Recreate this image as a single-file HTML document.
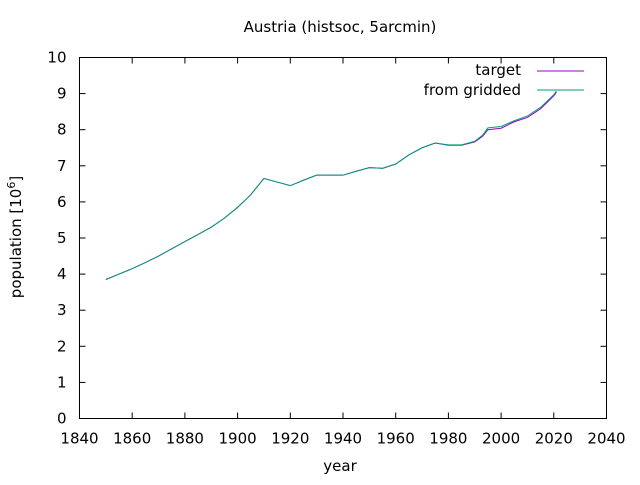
<!DOCTYPE html>
<html><head><meta charset="utf-8"><style>
body{margin:0;background:#fff}
svg text{font-family:"DejaVu Sans","Liberation Sans",sans-serif;fill:#000}
</style></head><body>
<svg width="640" height="480" id="c">
<rect width="640" height="480" fill="#fff"/>
<text x="340" y="32" font-size="15" text-anchor="middle">Austria (histsoc, 5arcmin)</text>
<text x="340" y="471" font-size="15" text-anchor="middle">year</text>
<text transform="translate(21,237) rotate(-90)" font-size="15" text-anchor="middle">population [10<tspan dy="-6" font-size="11">6</tspan><tspan dy="6">]</tspan></text>
<g id="axes"></g>
<g id="series"></g>
<g>
<text x="521" y="75" font-size="15" text-anchor="end">target</text>
<line x1="537" y1="71" x2="584" y2="71" stroke="#9400d3" stroke-width="1"/>
<text x="521" y="95" font-size="15" text-anchor="end">from gridded</text>
<line x1="537" y1="90" x2="584" y2="90" stroke="#009e73" stroke-width="1"/>
</g>
</svg>
<script>
const years=[1850,1855,1860,1865,1870,1875,1880,1885,1890,1895,1900,1905,1910,1915,1920,1925,1930,1935,1940,1945,1950,1955,1960,1965,1970,1975,1980,1985,1990,1993,1995,2000,2005,2010,2015,2020,2021];
const gridded=[3.85,4.0,4.15,4.32,4.5,4.7,4.9,5.1,5.3,5.55,5.85,6.2,6.65,6.55,6.45,6.6,6.74,6.74,6.74,6.85,6.95,6.93,7.05,7.3,7.5,7.63,7.58,7.58,7.68,7.85,8.05,8.09,8.25,8.38,8.62,8.97,9.07];
const target=[3.85,4.0,4.15,4.32,4.5,4.7,4.9,5.1,5.3,5.55,5.85,6.2,6.65,6.55,6.45,6.6,6.74,6.74,6.74,6.85,6.95,6.93,7.05,7.3,7.5,7.63,7.57,7.57,7.66,7.82,8.0,8.04,8.22,8.34,8.58,8.94,9.04];
const xTicks=[1840,1860,1880,1900,1920,1940,1960,1980,2000,2020,2040];
const yTicks=[0,1,2,3,4,5,6,7,8,9,10];
const X0=79.5,X1=606.5,Y0=418.5,Y1=57.5;
const sx=v=>X0+(v-1840)/200*(X1-X0);
const sy=v=>Y0-v/10*(Y0-Y1);
const NS='http://www.w3.org/2000/svg';
const ax=document.getElementById('axes');
function mk(tag,attrs,parent){const e=document.createElementNS(NS,tag);for(const k in attrs)e.setAttribute(k,attrs[k]);parent.appendChild(e);return e;}
const fr=mk('rect',{x:X0,y:Y1,width:X1-X0,height:Y0-Y1,fill:'none',stroke:'#000','stroke-width':1},ax);


xTicks.forEach(t=>{
  const x=sx(t);
  mk('line',{x1:x,y1:Y0,x2:x,y2:Y0-6,stroke:'#000'},ax);
  mk('line',{x1:x,y1:Y1,x2:x,y2:Y1+6,stroke:'#000'},ax);
  const tx=mk('text',{x:x,y:Y0+25,'font-size':15,'text-anchor':'middle'},ax);
  tx.textContent=t;
  
  
});
yTicks.forEach(t=>{
  const y=sy(t);
  mk('line',{x1:X0,y1:y,x2:X0+6,y2:y,stroke:'#000'},ax);
  mk('line',{x1:X1,y1:y,x2:X1-6,y2:y,stroke:'#000'},ax);
  const tx=mk('text',{x:X0-13,y:y+5,'font-size':15,'text-anchor':'end'},ax);
  tx.textContent=t;
  
  
});
const sg=document.getElementById('series');
function line(vals,color,name){
  const p=mk('polyline',{points:years.map((y,i)=>sx(y)+','+sy(vals[i])).join(' '),fill:'none',stroke:color,'stroke-width':1},sg);
  
  
}
line(target,'#9400d3','target-line');
line(gridded,'#009e73','gridded-line');
</script>
</body></html>
